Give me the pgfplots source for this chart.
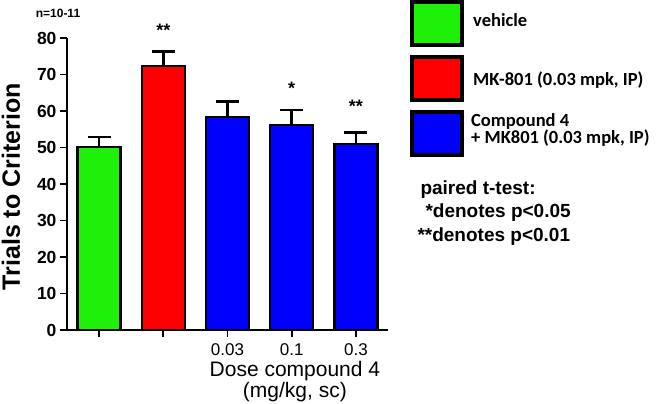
\documentclass[border=0pt]{standalone}
\usepackage{pgfplots}
\pgfplotsset{compat=1.18}
\usepackage{fontspec}
\setmainfont{Liberation Sans}
\newfontfamily\calfont{Carlito}
\definecolor{vgreen}{RGB}{30,240,10}
\definecolor{mkred}{RGB}{255,0,0}
\definecolor{cblue}{RGB}{0,0,255}
\begin{document}
\begin{tikzpicture}[x=1pt,y=1pt]
\useasboundingbox (-67,-74) rectangle (589,330);
\begin{axis}[
  at={(0,0)}, anchor=south west,
  scale only axis, width=321pt, height=292pt,
  xmin=-0.5, xmax=4.5, ymin=0, ymax=80,
  axis x line=bottom, axis y line=left,
  axis line style={-, line width=1.8pt},
  tick style={line width=1.8pt, black},
  tick align=outside,
  major tick length=7pt,
  xtick={0,1,2,3,4}, xticklabels={,,0.03,0.1,0.3},
  ytick={0,10,...,80},
  /pgf/number format/assume math mode=true,
  yticklabel style={font=\fontsize{17.5}{17.5}\selectfont\bfseries},
  xticklabel style={font=\fontsize{17}{17}\selectfont, yshift=-3pt},
  ylabel={Trials to Criterion},
  ylabel style={at={(axis description cs:-0.175,0.49)}, anchor=center,
    font=\fontsize{25}{25}\selectfont\bfseries},
  xlabel={Dose compound 4\\(mg/kg, sc)},
  xlabel style={at={(axis description cs:0.71,0)}, anchor=north, yshift=-28pt,
    align=center, font=\fontsize{21}{21}\selectfont},
  ybar, bar width=43pt, bar shift=0pt,
  clip=false,
  every axis plot/.append style={draw=black, line width=2.5pt},
  error bars/y dir=plus, error bars/y explicit,
  error bars/error bar style={line width=2.8pt, black},
  error bars/error mark options={rotate=90, mark size=11.5pt, line width=2.8pt, black},
]
\addplot[fill=vgreen] coordinates {(0,50.1) +- (0,2.8)};
\addplot[fill=mkred] coordinates {(1,72.3) +- (0,3.9)};
\addplot[fill=cblue] coordinates {
  (2,58.4) +- (0,4.3)
  (3,56.2) +- (0,4.1)
  (4,51.0) +- (0,3.2)
};
\node[font=\fontsize{18}{18}\selectfont\bfseries] at (axis cs:1,82.2) {**};
\node[font=\fontsize{18}{18}\selectfont\bfseries] at (axis cs:3,66.3) {*};
\node[font=\fontsize{18}{18}\selectfont\bfseries] at (axis cs:4,61.4) {**};
\end{axis}
\node[font=\fontsize{12}{12}\selectfont\bfseries\rmfamily] at (-9,317) {n=10-11};
% legend
\draw[line width=4pt, fill=vgreen] (345,328) rectangle (395,285);
\draw[line width=4pt, fill=mkred] (345,273) rectangle (395,230);
\draw[line width=4pt, fill=cblue] (345,218) rectangle (395,175);
\begin{scope}[every node/.style={anchor=west, inner sep=0pt, font=\calfont\fontsize{18.5}{15.5}\selectfont\bfseries}]
\node at (406,310) {vehicle};
\node at (406,250) {MK-801 (0.03 mpk, IP)};
\node[align=left] at (404,200) {Compound 4\\+ MK801 (0.03 mpk, IP)};
\end{scope}
\node[anchor=west, font=\fontsize{19}{19}\selectfont\bfseries] at (350,140) {paired t-test:};
\node[anchor=west, font=\fontsize{19}{19}\selectfont\bfseries] at (355,117) {*denotes p<0.05};
\node[anchor=west, font=\fontsize{19}{19}\selectfont\bfseries] at (347,93) {**denotes p<0.01};
\end{tikzpicture}
\end{document}
